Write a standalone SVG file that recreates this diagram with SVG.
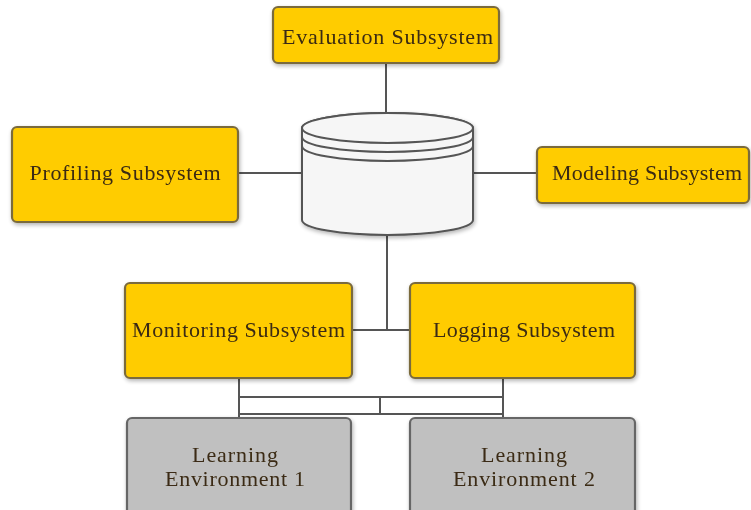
<svg xmlns="http://www.w3.org/2000/svg" width="751" height="510" viewBox="0 0 751 510">
<defs>
<filter id="sh" x="-10%" y="-10%" width="130%" height="130%">
<feGaussianBlur in="SourceAlpha" stdDeviation="2"/>
<feOffset dx="1" dy="2" result="b"/>
<feComponentTransfer><feFuncA type="linear" slope="0.3"/></feComponentTransfer>
<feMerge><feMergeNode/><feMergeNode in="SourceGraphic"/></feMerge>
</filter>
</defs>
<style>
.y{fill:#ffcc00;stroke:#7a6a3c;stroke-width:2.2}
.g{fill:#c0c0c0;stroke:#666;stroke-width:2.2}
.t{font-family:"Liberation Serif",serif;font-size:22px;fill:#3a2a12;text-anchor:middle}
.c{fill:none;stroke:#555;stroke-width:2}
.cy{fill:#f6f6f6;stroke:#555;stroke-width:2}
</style>
<rect width="751" height="510" fill="#fff"/>
<g id="connectors">
<line class="c" x1="386" y1="63" x2="386" y2="116"/>
<line class="c" x1="238" y1="173" x2="302" y2="173"/>
<line class="c" x1="473" y1="173" x2="537" y2="173"/>
<line class="c" x1="387" y1="233" x2="387" y2="330"/>
<line class="c" x1="352" y1="330" x2="410" y2="330"/>
<line class="c" x1="239" y1="378" x2="239" y2="418"/>
<line class="c" x1="503" y1="378" x2="503" y2="418"/>
<line class="c" x1="239" y1="397" x2="503" y2="397"/>
<line class="c" x1="239" y1="414" x2="503" y2="414"/>
<line class="c" x1="380" y1="397" x2="380" y2="414"/>
</g>
<g id="database" filter="url(#sh)">
<path class="cy" d="M302,128 L302,220 A85.5,15 0 0 0 473,220 L473,128 A85.5,15 0 0 0 302,128 Z"/>
<ellipse class="cy" cx="387.5" cy="128" rx="85.5" ry="15"/>
<path class="c" d="M302,137 A85.5,15 0 0 0 473,137"/>
<path class="c" d="M302,146 A85.5,15 0 0 0 473,146"/>
</g>
<g id="evaluation" filter="url(#sh)">
<rect class="y" x="273" y="7" width="226" height="56" rx="5"/>
<text class="t" x="387.5" y="44" textLength="211" lengthAdjust="spacing">Evaluation Subsystem</text>
</g>
<g id="profiling" filter="url(#sh)">
<rect class="y" x="12" y="127" width="226" height="95" rx="5"/>
<text class="t" x="125" y="180" textLength="191" lengthAdjust="spacing">Profiling Subsystem</text>
</g>
<g id="modeling" filter="url(#sh)">
<rect class="y" x="537" y="147" width="212" height="56" rx="5"/>
<text class="t" x="647" y="180" textLength="190" lengthAdjust="spacing">Modeling Subsystem</text>
</g>
<g id="monitoring" filter="url(#sh)">
<rect class="y" x="125" y="283" width="227" height="95" rx="5"/>
<text class="t" x="238.5" y="337" textLength="213" lengthAdjust="spacing">Monitoring Subsystem</text>
</g>
<g id="logging" filter="url(#sh)">
<rect class="y" x="410" y="283" width="225" height="95" rx="5"/>
<text class="t" x="524" y="337" textLength="182" lengthAdjust="spacing">Logging Subsystem</text>
</g>
<g id="env1" filter="url(#sh)">
<rect class="g" x="127" y="418" width="224" height="100" rx="5"/>
<text class="t" x="235" y="462" textLength="86" lengthAdjust="spacing">Learning</text>
<text class="t" x="235" y="486" textLength="140" lengthAdjust="spacing">Environment 1</text>
</g>
<g id="env2" filter="url(#sh)">
<rect class="g" x="410" y="418" width="225" height="100" rx="5"/>
<text class="t" x="524" y="462" textLength="86" lengthAdjust="spacing">Learning</text>
<text class="t" x="524" y="486" textLength="142" lengthAdjust="spacing">Environment 2</text>
</g>
</svg>
